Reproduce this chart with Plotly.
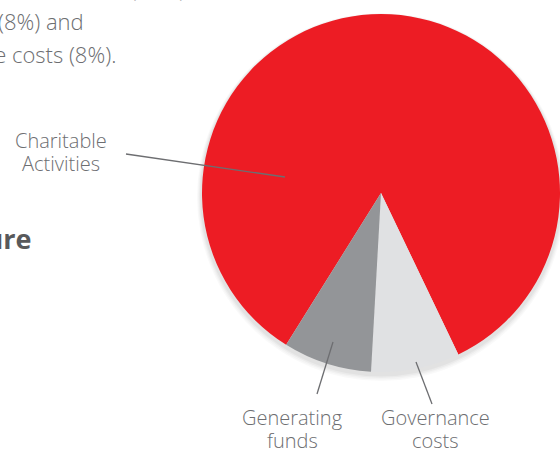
import plotly.graph_objects as go

W, H = 560, 449

labels = ["Charitable Activities", "Governance costs", "Generating funds"]
values = [84, 8, 8]
colors = ["#ED1C24", "#E0E1E3", "#939598"]

def px(x):
    return x / W

def py(y):
    return 1 - y / H

fig = go.Figure()
fig.add_trace(go.Pie(
    labels=labels, values=values, sort=False, direction="clockwise", rotation=212,
    marker=dict(colors=colors, line=dict(width=0)),
    textinfo="none", hoverinfo="label+percent",
    domain=dict(x=[px(202), px(560)], y=[py(372), py(14)]),
    showlegend=False,
))

shapes = []
# soft shadow under pie
cx, cy, r = 381, 193, 179
for i, a in enumerate([0.025, 0.025, 0.03, 0.035]):
    rr = r + 5 - i
    off = 4 - i * 0.5
    shapes.append(dict(type="circle", xref="paper", yref="paper", layer="below",
                       x0=px(cx - rr), x1=px(cx + rr), y0=py(cy + off + rr), y1=py(cy + off - rr),
                       fillcolor=f"rgba(0,0,0,{a})", line=dict(width=0)))
# leader lines
lines = [((126, 154), (285, 177)), ((317, 394), (333, 342)), ((432, 404), (416, 362))]
for (x0, y0), (x1, y1) in lines:
    shapes.append(dict(type="line", xref="paper", yref="paper",
                       x0=px(x0), y0=py(y0), x1=px(x1), y1=py(y1),
                       line=dict(color="#6D6E71", width=1.3)))

lab_font = dict(family="Open Sans", size=20, color="#6D6E71", weight=300)
txt_font = dict(family="Open Sans", size=22, color="#6D6E71", weight=300)
ann = [
    dict(text="Charitable", x=px(61), y=py(140), xanchor="center", yanchor="middle", font=lab_font),
    dict(text="Activities", x=px(61), y=py(163), xanchor="center", yanchor="middle", font=lab_font),
    dict(text="Generating", x=px(292), y=py(417), xanchor="center", yanchor="middle", font=lab_font),
    dict(text="funds", x=px(292), y=py(440), xanchor="center", yanchor="middle", font=lab_font),
    dict(text="Governance", x=px(435), y=py(417), xanchor="center", yanchor="middle", font=lab_font),
    dict(text="costs", x=px(435), y=py(440), xanchor="center", yanchor="middle", font=lab_font),
    dict(text="charitable activities (84%),", x=px(192), y=py(-12), xanchor="right", yanchor="middle", font=txt_font),
    dict(text="generating funds (8%) and", x=px(86), y=py(21), xanchor="right", yanchor="middle", font=txt_font),
    dict(text="governance costs (8%).", x=px(118), y=py(54), xanchor="right", yanchor="middle", font=txt_font),
    dict(text="<b>Expenditure</b>", x=px(34), y=py(238), xanchor="right", yanchor="middle",
         font=dict(family="Open Sans", size=27, color="#58595B")),
]
for a in ann:
    a.update(xref="paper", yref="paper", showarrow=False, align="center")

fig.update_layout(width=W, height=H, margin=dict(l=0, r=0, t=0, b=0),
                  paper_bgcolor="white", plot_bgcolor="white",
                  shapes=shapes, annotations=ann)
fig.write_html("out.html", config=dict(displayModeBar=False),
               post_script="document.body.style.margin='0';document.body.style.overflow='hidden';")
